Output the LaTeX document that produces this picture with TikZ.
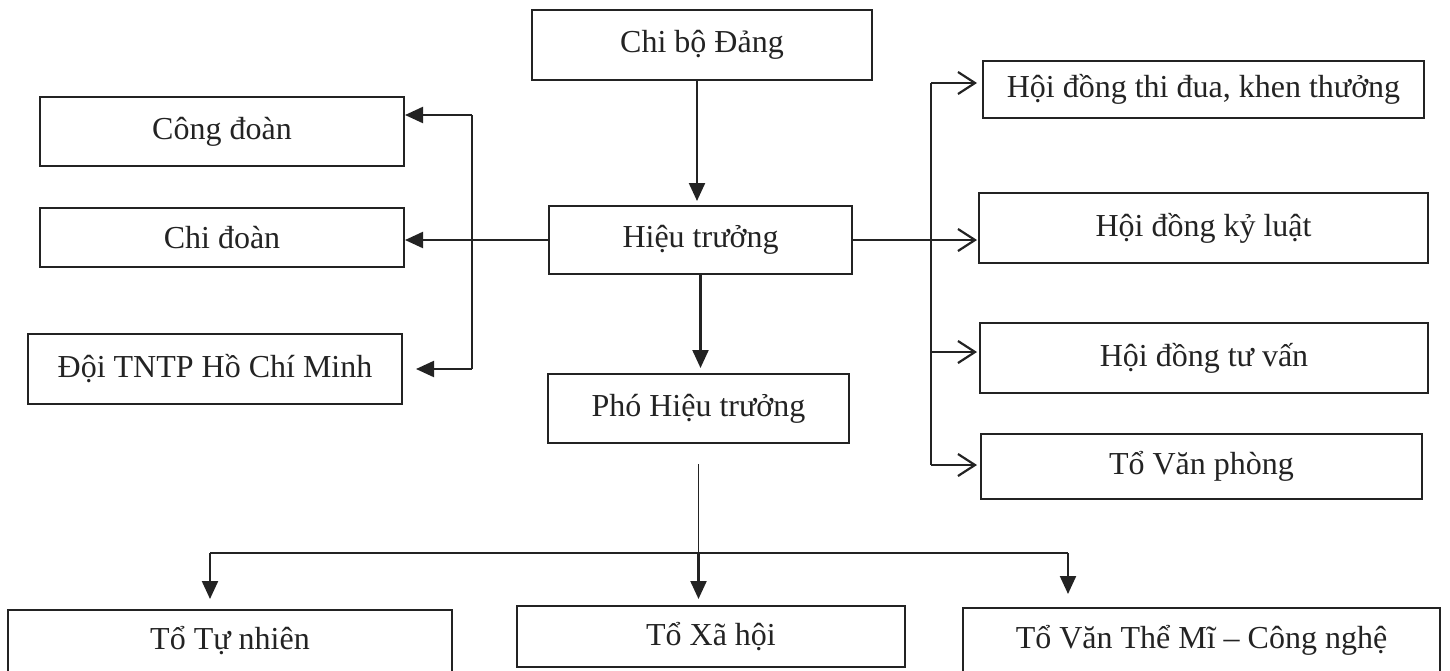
\documentclass[tikz,border=0pt]{standalone}
\usepackage{fontspec}
\setmainfont{Liberation Serif}
\usetikzlibrary{arrows.meta}
\definecolor{ink}{RGB}{35,35,35}
\begin{document}
\begin{tikzpicture}[x=1pt,y=-1pt,
  box/.style={draw=ink, text=ink, line width=2pt, rectangle, inner sep=0pt,
    font=\fontsize{32}{38}\selectfont},
  conn/.style={draw=ink, line width=2.2pt},
  thinline/.style={draw=ink, line width=1.1pt},
  fillarr/.style={conn, -{Triangle[length=18pt,width=16pt]}},
  openarr/.style={conn, -{Straight Barb[length=17pt,width=22pt,line width=2.2pt]}}
]
\useasboundingbox (0,0) rectangle (1450,670);

% nodes
\node[box, minimum width=340pt, minimum height=70pt] (chibo) at (702,45) {Chi bộ Đảng};
\node[box, minimum width=303pt, minimum height=68pt] (hieu) at (700.5,240) {Hiệu trưởng};
\node[box, minimum width=301pt, minimum height=69pt] (pho) at (698.5,408.5) {Phó Hiệu trưởng};

\node[box, minimum width=364pt, minimum height=69pt] (congdoan) at (222,131.5) {Công đoàn};
\node[box, minimum width=364pt, minimum height=59pt] (chidoan) at (222,237.5) {Chi đoàn};
\node[box, minimum width=374pt, minimum height=70pt] (doi) at (215,369) {Đội TNTP Hồ Chí Minh};

\node[box, minimum width=441pt, minimum height=57pt] (thidua) at (1203.5,89.5) {Hội đồng thi đua, khen thưởng};
\node[box, minimum width=449pt, minimum height=70pt] (kyluat) at (1203.5,228) {Hội đồng kỷ luật};
\node[box, minimum width=448pt, minimum height=70pt] (tuvan) at (1204,358) {Hội đồng tư vấn};
\node[box, minimum width=441pt, minimum height=65pt] (vanphong) at (1201.5,466.5) {Tổ Văn phòng};

\node[box, minimum width=444pt, minimum height=62pt] (tunhien) at (230,641) {\raisebox{5pt}{Tổ Tự nhiên}};
\node[box, minimum width=388pt, minimum height=61pt] (xahoi) at (711,636.5) {Tổ Xã hội};
\node[box, minimum width=477pt, minimum height=64pt] (vanthe) at (1201.5,640) {\raisebox{4pt}{Tổ Văn Thể Mĩ – Công nghệ}};

% junction coordinates
\coordinate (Lt) at (472,115);
\coordinate (Lm) at (472,240);
\coordinate (Lb) at (472,369);
\coordinate (Rt) at (931,83);
\coordinate (Rm) at (931,240);
\coordinate (Rq) at (931,352);
\coordinate (Rb) at (931,465);
\coordinate (Bl) at (210,553);
\coordinate (Bm) at (698.5,553);
\coordinate (Br) at (1068,553);
\coordinate (Ctop) at (697,80);

% top chain
\draw[fillarr, shorten >=4pt] (Ctop) -- (Ctop |- hieu.north);
\draw[fillarr, shorten >=5pt] (hieu.south) -- (hieu.south |- pho.north);

% left branch
\draw[thinline] (hieu.west) -- (Lm);
\draw[conn] (Lt) -- (Lb);
\draw[fillarr] (Lt) -- (congdoan.east |- Lt);
\draw[fillarr] (Lm) -- (chidoan.east |- Lm);
\draw[fillarr, shorten >=13pt] (Lb) -- (doi.east |- Lb);

% right branch
\draw[thinline] (hieu.east) -- (Rm);
\draw[conn] (Rt) -- (Rb);
\draw[openarr, shorten >=5pt] (Rt) -- (thidua.west |- Rt);
\draw[openarr, shorten >=1pt] (Rm) -- (kyluat.west |- Rm);
\draw[openarr, shorten >=2pt] (Rq) -- (tuvan.west |- Rq);
\draw[openarr, shorten >=3pt] (Rb) -- (vanphong.west |- Rb);

% bottom branch
\draw[thinline, line width=1.4pt] ([yshift=-20pt]pho.south) -- (Bm);
\draw[conn, line width=1.7pt] (Bl) -- (Br);
\draw[fillarr, shorten >=10pt] (Bl) -- (Bl |- tunhien.north);
\draw[fillarr, shorten >=6pt] (Bm) -- (Bm |- xahoi.north);
\draw[fillarr, shorten >=13pt] (Br) -- (Br |- vanthe.north);
\end{tikzpicture}
\end{document}
